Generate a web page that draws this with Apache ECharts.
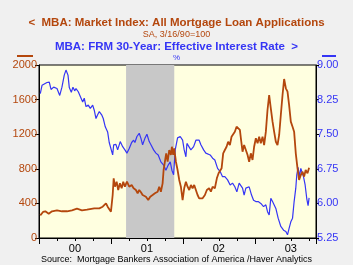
<!DOCTYPE html>
<html><head><meta charset="utf-8">
<script src="https://cdn.jsdelivr.net/npm/echarts@6/dist/echarts.min.js"></script>
<style>html,body{margin:0;padding:0;background:#F0F0F0;}#c{width:353px;height:265px;}</style>
</head><body><div id="c"></div>
<script>
// Market index (left axis), decimal-year dates
var idxDates = [2000.018,2000.056,2000.088,2000.135,2000.181,2000.25,2000.319,2000.389,2000.458,2000.528,2000.597,2000.667,2000.768,2000.838,2000.885,2000.931,2000.954,2000.976,2001.0,2001.024,2001.038,2001.056,2001.079,2001.101,2001.125,2001.149,2001.171,2001.194,2001.222,2001.254,2001.288,2001.315,2001.347,2001.371,2001.393,2001.417,2001.44,2001.463,2001.486,2001.518,2001.546,2001.579,2001.611,2001.649,2001.671,2001.694,2001.718,2001.732,2001.75,2001.768,2001.788,2001.81,2001.833,2001.847,2001.865,2001.879,2001.903,2001.926,2001.949,2001.972,2001.996,2002.018,2002.042,2002.065,2002.088,2002.111,2002.135,2002.157,2002.181,2002.204,2002.226,2002.25,2002.274,2002.306,2002.333,2002.365,2002.389,2002.413,2002.444,2002.472,2002.496,2002.518,2002.538,2002.56,2002.583,2002.607,2002.629,2002.653,2002.676,2002.699,2002.722,2002.746,2002.768,2002.792,2002.806,2002.829,2002.851,2002.875,2002.899,2002.921,2002.944,2002.968,2002.99,2003.014,2003.038,2003.06,2003.083,2003.107,2003.129,2003.153,2003.176,2003.199,2003.222,2003.246,2003.268,2003.292,2003.315,2003.338,2003.361,2003.385,2003.407,2003.431,2003.454,2003.476,2003.5,2003.524,2003.546,2003.569,2003.593,2003.615,2003.639,2003.663,2003.685,2003.706,2003.732,2003.754];
var idxValues = [262,301,309,281,309,320,309,309,320,339,320,327,343,343,362,401,362,343,304,497,690,593,651,555,632,575,651,593,651,593,613,575,555,517,555,528,497,505,477,439,477,497,517,535,593,535,632,786,882,979,882,1017,960,1055,960,1037,882,786,671,593,439,575,651,593,555,613,575,613,593,497,459,477,459,497,555,575,535,593,575,690,748,748,806,979,1017,1055,1113,1075,1171,1153,1229,1287,1306,1249,1153,998,1075,1055,960,882,979,902,1055,1153,1095,1171,1095,1171,1075,1229,1480,1653,1499,1345,1229,1113,1075,1191,1422,1653,1838,1731,1691,1538,1345,1287,1229,979,806,671,728,767,709,786,748,813];
// 30-year effective rate (right axis)
var rateDates = [2000.018,2000.042,2000.111,2000.143,2000.167,2000.204,2000.25,2000.288,2000.319,2000.351,2000.375,2000.403,2000.421,2000.449,2000.472,2000.496,2000.514,2000.546,2000.569,2000.607,2000.629,2000.653,2000.685,2000.713,2000.746,2000.768,2000.792,2000.815,2000.838,2000.871,2000.893,2000.921,2000.954,2000.976,2001.0,2001.024,2001.038,2001.069,2001.093,2001.129,2001.163,2001.194,2001.222,2001.254,2001.288,2001.315,2001.333,2001.361,2001.393,2001.417,2001.44,2001.472,2001.5,2001.532,2001.556,2001.593,2001.625,2001.657,2001.694,2001.732,2001.764,2001.796,2001.824,2001.847,2001.871,2001.893,2001.926,2001.963,2001.996,2002.018,2002.042,2002.056,2002.079,2002.111,2002.149,2002.181,2002.204,2002.226,2002.25,2002.288,2002.319,2002.343,2002.379,2002.413,2002.444,2002.482,2002.518,2002.551,2002.583,2002.621,2002.657,2002.69,2002.722,2002.75,2002.782,2002.806,2002.829,2002.851,2002.875,2002.899,2002.921,2002.954,2002.982,2003.014,2003.046,2003.083,2003.121,2003.153,2003.176,2003.199,2003.222,2003.246,2003.268,2003.292,2003.324,2003.361,2003.399,2003.431,2003.454,2003.476,2003.5,2003.524,2003.546,2003.569,2003.583,2003.601,2003.621,2003.639,2003.657,2003.676,2003.699,2003.722,2003.74,2003.754];
var rateValues = [8.38,8.56,8.62,8.63,8.47,8.52,8.49,8.34,8.52,8.78,8.89,8.78,8.51,8.41,8.52,8.44,8.49,8.42,8.46,8.20,8.28,8.10,8.13,8.06,8.13,8.02,7.84,7.92,7.99,7.92,7.84,7.66,7.55,7.32,7.30,7.05,7.27,7.28,7.16,7.34,7.23,7.16,7.09,7.19,7.32,7.37,7.32,7.45,7.52,7.41,7.27,7.41,7.50,7.34,7.27,7.16,7.09,7.05,6.90,6.83,6.72,6.83,6.90,6.72,6.62,7.16,7.42,7.45,7.37,7.16,7.01,7.30,7.28,7.16,7.23,7.37,7.41,7.37,7.27,7.16,7.09,7.05,7.05,6.98,6.94,6.76,6.69,6.58,6.58,6.51,6.40,6.44,6.36,6.25,6.44,6.47,6.33,6.18,6.33,6.36,6.36,6.18,6.07,6.04,6.04,6.00,5.93,5.97,5.82,5.75,6.11,6.04,6.07,5.89,5.68,5.50,5.42,5.39,5.32,5.46,5.60,5.68,6.04,6.33,6.62,6.78,6.58,6.76,6.67,6.58,6.40,6.10,5.95,6.12];
var recession = [2001.21, 2001.88];
var leftTicks = {min: 0, max: 2000, step: 400};
var rightTicks = {min: 5.25, max: 9.00, step: 0.75};
var xRange = {min: 2000, max: 2003.85};

function zip(a, b) { return a.map(function (d, i) { return [d, b[i]]; }); }

var BROWN = '#B4470D', BLUE = '#3535F5', FONT = 'Liberation Sans, Arial, sans-serif';
var chart = echarts.init(document.getElementById('c'));
chart.setOption({
  backgroundColor: '#F0F0F0',
  animation: false,
  grid: {left: 39, right: 37, top: 65, bottom: 27, show: true, backgroundColor: '#FFFFE0', borderColor: '#000', borderWidth: 1},
  xAxis: [{
    type: 'value', min: xRange.min, max: xRange.max, interval: 1,
    axisLine: {lineStyle: {color: '#000'}},
    axisTick: {show: true, length: 6, lineStyle: {color: '#000'}},
    minorTick: {show: true, splitNumber: 4, length: 3, lineStyle: {color: '#000'}},
    axisLabel: {show: false}, splitLine: {show: false}
  }, {
    type: 'value', min: xRange.min, max: xRange.max, interval: 0.5, position: 'bottom',
    axisLine: {show: false}, axisTick: {show: false}, splitLine: {show: false},
    axisLabel: {margin: 5, color: '#000', fontSize: 11, fontFamily: FONT,
      formatter: function (v) { var f = v - Math.floor(v); if (Math.abs(f - 0.5) < 0.01) { var y = Math.floor(v) % 100; return (y < 10 ? '0' : '') + y; } return ''; }}
  }],
  yAxis: [{
    type: 'value', min: leftTicks.min, max: leftTicks.max, interval: leftTicks.step, position: 'left',
    axisLine: {show: true, lineStyle: {color: '#000'}},
    axisTick: {show: true, length: 4, lineStyle: {color: '#000'}},
    axisLabel: {color: BROWN, fontSize: 11, fontFamily: FONT, margin: 2, formatter: function (v) { return String(v); }},
    splitLine: {show: false}
  }, {
    type: 'value', min: rightTicks.min, max: rightTicks.max, interval: rightTicks.step, position: 'right',
    axisLine: {show: true, lineStyle: {color: '#000'}},
    axisTick: {show: true, length: 3, lineStyle: {color: '#000'}},
    axisLabel: {color: BLUE, fontSize: 11, fontFamily: FONT, margin: 1, formatter: function (v) { return v.toFixed(2); }},
    splitLine: {show: false}
  }],
  graphic: [
    {type: 'text', left: 'center', top: 17, style: {text: '<  MBA: Market Index: All Mortgage Loan Applications', fill: BROWN, font: 'bold 11.5px ' + FONT}},
    {type: 'text', left: 'center', top: 30, style: {text: 'SA, 3/16/90=100', fill: BROWN, font: '9px ' + FONT}},
    {type: 'text', left: 'center', top: 41, style: {text: 'MBA: FRM 30-Year: Effective Interest Rate  >', fill: BLUE, font: 'bold 11.5px ' + FONT}},
    {type: 'text', left: 'center', top: 54, style: {text: '%', fill: BLUE, font: '8px ' + FONT}},
    {type: 'line', shape: {x1: 17, y1: 56, x2: 33, y2: 56}, style: {stroke: BROWN, lineWidth: 2}},
    {type: 'line', shape: {x1: 322, y1: 56, x2: 336, y2: 56}, style: {stroke: BLUE, lineWidth: 2}},
    {type: 'text', left: 'center', top: 255, style: {text: 'Source:  Mortgage Bankers Association of America /Haver Analytics', fill: '#000', font: '9px ' + FONT}}
  ],
  series: [{
    type: 'line', yAxisIndex: 1, xAxisIndex: 0, data: zip(rateDates, rateValues),
    showSymbol: false, lineStyle: {color: BLUE, width: 1.2}, z: 3,
    markArea: {silent: true, z: 1, itemStyle: {color: '#C8C8C8'}, data: [[{xAxis: recession[0]}, {xAxis: recession[1]}]]}
  }, {
    type: 'line', yAxisIndex: 0, xAxisIndex: 0, data: zip(idxDates, idxValues),
    showSymbol: false, lineStyle: {color: BROWN, width: 1.8}, z: 4
  }]
});
</script></body></html>
